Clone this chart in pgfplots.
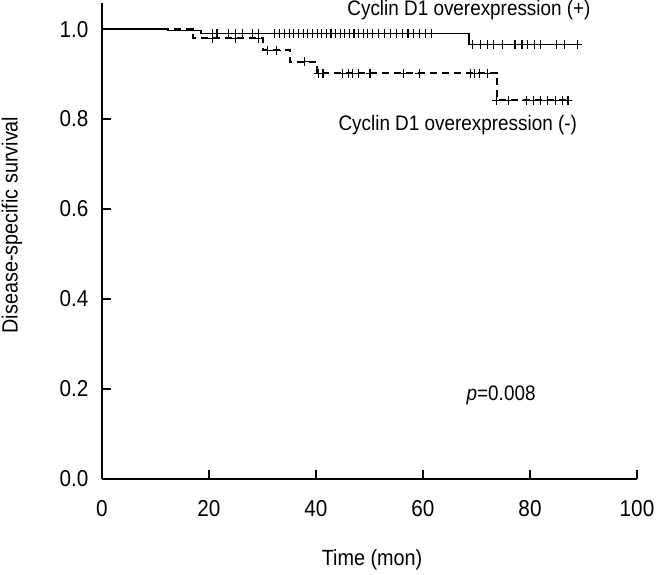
\documentclass[border=0pt]{standalone}
\usepackage{fontspec}
\setmainfont{Liberation Sans}[FakeStretch=0.9]
\usepackage{pgfplots}
\pgfplotsset{compat=1.18}
\begin{document}
\begin{tikzpicture}
\useasboundingbox (-102pt,-96pt) rectangle (559pt,479pt);
\begin{axis}[
  at={(0,0)}, anchor=south west,
  scale only axis,
  width=535pt, height=476pt,
  xmin=0, xmax=100, ymin=0, ymax=1.058,
  axis x line=bottom, axis y line=left,
  axis line style={-, line width=1.5pt},
  tick align=inside,
  major tick length=9pt,
  tick style={line width=1.3pt, black},
  xtick={0,20,40,60,80,100},
  ytick={0,0.2,0.4,0.6,0.8,1.0},
  yticklabel style={/pgf/number format/fixed, /pgf/number format/fixed zerofill, /pgf/number format/precision=1, xshift=-10pt},
  /pgf/number format/assume math mode=true,
  ticklabel style={font=\fontsize{23}{27}\selectfont},
  xticklabel style={yshift=-18pt},
  clip=false,
]
% Cyclin D1 overexpression (+): solid
\addplot[const plot, black, line width=1.5pt] coordinates {
 (0,1) (12.3,0.997) (18.5,0.990) (68.6,0.966) (88.8,0.966)
};
% Cyclin D1 overexpression (-): dashed
\addplot[const plot, black, line width=1.5pt, dash pattern=on 7pt off 5pt] coordinates {
 (0,1) (17.0,0.980) (30.1,0.953) (35.1,0.927) (40.2,0.902) (73.8,0.842) (87.1,0.842)
};
% censored marks (+)
\addplot[only marks, mark=+, mark size=4.5pt, mark options={line width=1.1pt, black}] coordinates {
 (20.6,0.990) (21.5,0.990) (23.6,0.990) (24.9,0.990) (26.2,0.990) (28.2,0.990) (29.2,0.990)
 (32.3,0.990) (33.2,0.990) (34.1,0.990) (35.0,0.990) (35.8,0.990) (36.7,0.990) (37.6,0.990)
 (38.4,0.990) (39.3,0.990) (40.2,0.990) (41.0,0.990) (41.9,0.990) (42.8,0.990) (43.6,0.990)
 (44.5,0.990) (45.4,0.990) (46.2,0.990) (47.1,0.990) (48.0,0.990) (48.9,0.990) (49.7,0.990)
 (50.6,0.990) (51.7,0.990) (52.8,0.990) (53.9,0.990) (55.0,0.990) (56.1,0.990) (57.2,0.990)
 (58.3,0.990) (59.4,0.990) (60.5,0.990) (61.6,0.990)
 (69.3,0.966) (70.7,0.966) (72.0,0.966) (73.1,0.966) (74.8,0.966)
 (77.2,0.966) (78.5,0.966) (79.6,0.966) (80.9,0.966) (81.9,0.966)
 (85.0,0.966) (86.5,0.966) (88.8,0.966)
};
% censored marks (-)
\addplot[only marks, mark=+, mark size=4.5pt, mark options={line width=1.1pt, black}] coordinates {
 (20.6,0.980) (24.9,0.980) (29.2,0.980)
 (30.9,0.953) (32.7,0.953)
 (37.9,0.927)
 (40.4,0.902) (41.3,0.902) (45.0,0.902) (46.0,0.902) (46.9,0.902) (47.9,0.902)
 (50.1,0.902) (56.3,0.902) (59.4,0.902) (68.8,0.902) (69.7,0.902) (70.6,0.902) (72.1,0.902)
 (73.8,0.842) (75.9,0.842) (79.4,0.842) (80.6,0.842) (81.9,0.842) (83.2,0.842)
 (84.7,0.842) (86.0,0.842) (87.1,0.842)
};
\node[font=\fontsize{21}{25}\selectfont] at (axis cs:68.6,1.042) {Cyclin D1 overexpression (+)};
\node[font=\fontsize{21}{25}\selectfont] at (axis cs:66.5,0.787) {Cyclin D1 overexpression (-)};
\node[font=\fontsize{21}{25}\selectfont] at (axis cs:74.6,0.187) {\textit{p}=0.008};
\end{axis}
\node[rotate=90, font=\fontsize{22}{26}\selectfont] at (-90pt,254pt) {Disease-specific survival};
\node[font=\fontsize{22}{26}\selectfont] at (270pt,-81pt) {Time (mon)};
\end{tikzpicture}
\end{document}
